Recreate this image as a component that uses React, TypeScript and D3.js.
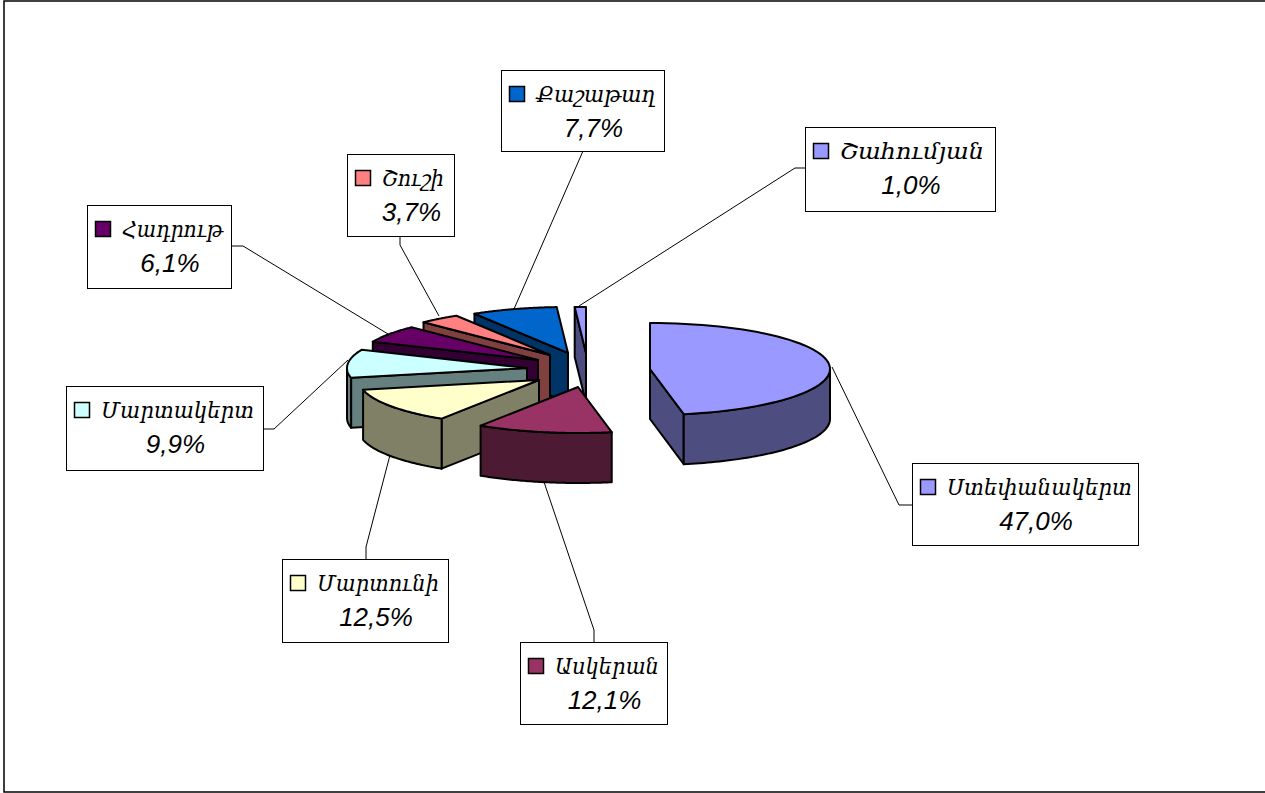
import React from 'react';
import * as d3 from 'd3';

const categories = ['Ստեփանակերտ', 'Ասկերան', 'Մարտունի', 'Մարտակերտ', 'Հադրութ', 'Շուշի', 'Քաշաթաղ', 'Շահումյան'];
const shares = [47.0, 12.1, 12.5, 9.9, 6.1, 3.7, 7.7, 1.0];
const topColors = ['#9999FF', '#993366', '#FFFFCC', '#CCFFFF', '#660066', '#FF8080', '#0066CC', '#9999FF'];
const wallColors = ['#4D4D80', '#4D1A33', '#808066', '#668080', '#330033', '#804040', '#003366', '#4D4D80'];

// where each exploded slice has its tip
const tips: [number, number][] = [[650, 369], [578, 387], [539, 380], [527, 368], [538, 360], [550, 355], [568, 353], [586, 353]];
// label boxes: x, y, w, h, name width, then leader line points
const boxes = [
    { x: 912, y: 463, w: 226, h: 82, nameW: 185, leader: [[912, 505], [899, 505], [832, 367]] },
    { x: 520, y: 642, w: 147, h: 82, nameW: 104, leader: [[594, 642], [594, 630], [544, 482]] },
    { x: 282, y: 559, w: 166, h: 83, nameW: 122, leader: [[366, 559], [366, 547], [390, 455]] },
    { x: 66, y: 386, w: 197, h: 84, nameW: 153, leader: [[263, 429], [274, 429], [348, 360]] },
    { x: 87, y: 205, w: 144, h: 83, nameW: 101, leader: [[231, 246], [243, 246], [388, 334]] },
    { x: 347, y: 154, w: 107, h: 82, nameW: 62, leader: [[400, 236], [400, 245], [439, 316]] },
    { x: 501, y: 70, w: 163, h: 81, nameW: 119, leader: [[583, 151], [514, 309]] },
    { x: 805, y: 127, w: 190, h: 84, nameW: 144, leader: [[805, 168], [795, 168], [579, 306]] },
];

const rx = 180;
const ry = 46;
const depth = 50;
const font = '"DejaVu Serif", "Noto Sans", serif';
const pctFont = '"Liberation Sans", Arial, sans-serif';

const arcs = d3.pie<number>().sort(null).value(d => d)(shares);
const rim = (a: number, tip: [number, number], dy = 0): [number, number] =>
    [tip[0] + rx * Math.sin(a), tip[1] + dy - ry * Math.cos(a)];
const line = d3.line();

const App: React.FC = () => {
    // painted back to front: the small far slices first
    const order = [7, 6, 5, 4, 3, 2, 1, 0];
    return (
        <svg width={1265} height={793} style={{ position: 'absolute', left: 0, top: 0, display: 'block', background: '#fff' }}>
            <rect x={4} y={1} width={1270} height={791} fill="#fff" stroke="#000" strokeWidth={1.5} />
            {boxes.map((b, i) => (
                <path key={i} d={line(b.leader as [number, number][]) || ''} fill="none" stroke="#000" strokeWidth={1} />
            ))}
            {order.map(i => {
                const tip = tips[i];
                const a0 = arcs[i].startAngle;
                const a1 = arcs[i].endAngle;
                const angleRange = (from: number, to: number) => d3.range(0, 61).map(k => from + (to - from) * k / 60);
                const top = angleRange(a0, a1).map(a => rim(a, tip));
                const under: [number, number] = [tip[0], tip[1] + depth];
                const edge = { fill: wallColors[i], stroke: '#000', strokeWidth: 2, strokeLinejoin: 'round' as const };
                // only the part of the rim facing the viewer has a wall
                const w0 = Math.max(a0, Math.PI / 2);
                const w1 = Math.min(a1, Math.PI * 1.5);
                const wall = w1 > w0 ? angleRange(w0, w1) : [];
                return (
                    <g key={i}>
                        {a0 > Math.PI && <path d={line([tip, rim(a0, tip), rim(a0, tip, depth), under])! + 'Z'} {...edge} />}
                        {a1 < Math.PI && <path d={line([tip, rim(a1, tip), rim(a1, tip, depth), under])! + 'Z'} {...edge} />}
                        {wall.length > 0 && (
                            <path d={line([...wall.map(a => rim(a, tip)), ...wall.slice().reverse().map(a => rim(a, tip, depth))])! + 'Z'} {...edge} />
                        )}
                        <path d={line([tip, ...top])! + 'Z'} fill={topColors[i]} stroke="#000" strokeWidth={2} strokeLinejoin="round" />
                    </g>
                );
            })}
            {boxes.map((b, i) => (
                <g key={i}>
                    <rect x={b.x + 0.5} y={b.y + 0.5} width={b.w} height={b.h} fill="#fff" stroke="#000" />
                    <rect x={b.x + 8.5} y={b.y + 16.5} width={15} height={15} fill={topColors[i]} stroke="#000" strokeWidth={1.5} />
                    <text x={b.x + 35} y={b.y + 32} textLength={b.nameW} lengthAdjust="spacingAndGlyphs" fontFamily={font} fontStyle="italic" fontSize={22} fill="#000">{categories[i]}</text>
                    <text x={b.x + b.w / 2 + 11} y={b.y + 67} textAnchor="middle" fontFamily={pctFont} fontStyle="italic" fontSize={26} fill="#000">
                        {shares[i].toFixed(1).replace('.', ',')}%
                    </text>
                </g>
            ))}
        </svg>
    );
};

export default App;
